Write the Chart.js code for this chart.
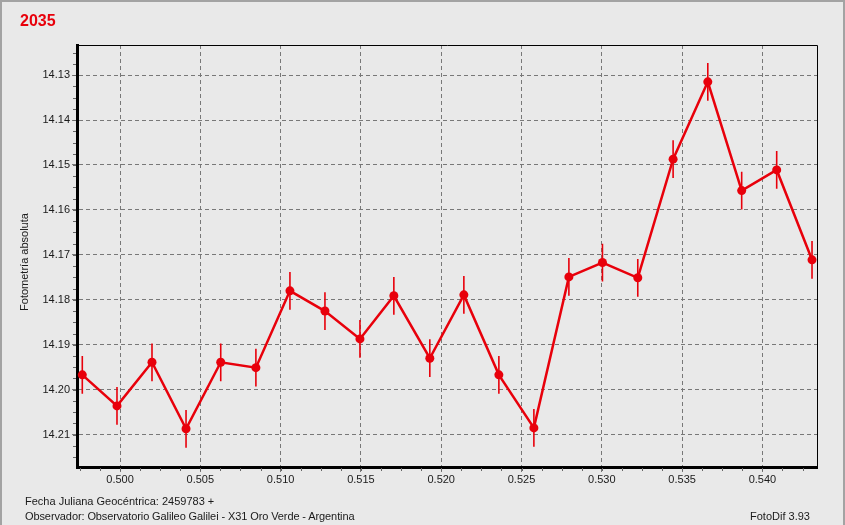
<!DOCTYPE html>
<html>
<head>
<meta charset="utf-8">
<script src="https://cdn.jsdelivr.net/npm/chart.js@4/dist/chart.umd.min.js"></script>
<style>
  html, body { margin: 0; padding: 0; }
  body { width: 845px; height: 525px; background: #e9e9e9; overflow: hidden; position: relative; font-family: "Liberation Sans", Arial, sans-serif; }
  #frame { position: absolute; left: 0; top: 0; width: 841px; height: 525px; border: 2px solid #a3a3a3; border-bottom: none; box-sizing: content-box; pointer-events: none; }
  #wrap { position: absolute; left: 0; top: 0; width: 845px; height: 525px; }
  .txt { position: absolute; white-space: nowrap; color: #1a1a1a; font-size: 11px; line-height: 13px; }
  #title { left: 20px; top: 11px; color: #e8000b; font-weight: bold; font-size: 16px; line-height: 20px; }
  #ylab { left: 24px; top: 262px; transform: translate(-50%, -50%) rotate(-90deg); }
  #f1 { left: 25px; top: 495px; }
  #f2 { left: 25px; top: 510px; letter-spacing: -0.1px; }
  #f3 { left: 750px; top: 510px; }
</style>
</head>
<body>
<div id="wrap"><canvas id="c" width="845" height="525"></canvas></div>
<div id="frame"></div>
<div class="txt" id="title">2035</div>
<div class="txt" id="ylab">Fotometría absoluta</div>
<div class="txt" id="f1">Fecha Juliana Geocéntrica: 2459783 +</div>
<div class="txt" id="f2">Observador: Observatorio Galileo Galilei - X31 Oro Verde - Argentina</div>
<div class="txt" id="f3">FotoDif 3.93</div>
<script>
// Julian date fraction (x) values
const jdFrac = [0.49765, 0.49981, 0.50199, 0.50411, 0.50627, 0.50846, 0.51058, 0.51276, 0.51494, 0.51705, 0.51929,
                0.52141, 0.52359, 0.52577, 0.52795, 0.53004, 0.53224, 0.53444, 0.53660, 0.53871, 0.54089, 0.54309];
// absolute magnitude values
const magnitude = [14.1967, 14.2036, 14.1939, 14.2087, 14.1939, 14.1951, 14.1780, 14.1825, 14.1887, 14.1791, 14.1930,
                   14.1789, 14.1967, 14.2085, 14.1749, 14.1717, 14.1751, 14.1487, 14.1315, 14.1557, 14.1511, 14.1711];
// error (half-length of error bars)
const magError = [0.0042, 0.0042, 0.0042, 0.0042, 0.0042, 0.0042, 0.0042, 0.0042, 0.0042, 0.0042, 0.0042,
                  0.0042, 0.0042, 0.0042, 0.0042, 0.0042, 0.0042, 0.0042, 0.0042, 0.0042, 0.0042, 0.0042];
// axis ranges and tick steps
const xRange = [0.49732, 0.5434];
const yRange = [14.1233, 14.2172];
const xStep = 0.005;
const yStep = 0.01;
const xMinorStep = 0.00125;
const yMinorStep = 0.0025;

const RED = '#e8000b';
const points = jdFrac.map((x, i) => ({ x: x, y: magnitude[i] }));

const errorBars = {
  id: 'errorBars',
  beforeDatasetsDraw(chart) {
    const ctx = chart.ctx, xs = chart.scales.x, ys = chart.scales.y;
    ctx.save();
    ctx.strokeStyle = RED;
    ctx.lineWidth = 1.6;
    ctx.beginPath();
    jdFrac.forEach((x, i) => {
      const px = xs.getPixelForValue(x);
      ctx.moveTo(px, ys.getPixelForValue(magnitude[i] - magError[i]));
      ctx.lineTo(px, ys.getPixelForValue(magnitude[i] + magError[i]));
    });
    ctx.stroke();
    ctx.restore();
  }
};

const frameAndMinor = {
  id: 'frameAndMinor',
  afterDraw(chart) {
    const ctx = chart.ctx, a = chart.chartArea, xs = chart.scales.x, ys = chart.scales.y;
    ctx.save();
    ctx.strokeStyle = '#000';
    ctx.lineWidth = 1;
    ctx.beginPath();
    ctx.moveTo(a.left, a.top + 0.5); ctx.lineTo(a.right + 0.5, a.top + 0.5);
    ctx.lineTo(a.right + 0.5, a.bottom);
    ctx.stroke();
    // minor ticks
    ctx.strokeStyle = '#666';
    ctx.beginPath();
    const x0 = Math.ceil(xRange[0] / xMinorStep);
    const x1 = Math.floor(xRange[1] / xMinorStep);
    for (let k = x0; k <= x1; k++) {
      const px = Math.round(xs.getPixelForValue(k * xMinorStep)) + 0.5;
      ctx.moveTo(px, a.bottom + 1);
      ctx.lineTo(px, a.bottom + 4);
    }
    const y0 = Math.ceil(yRange[0] / yMinorStep);
    const y1 = Math.floor(yRange[1] / yMinorStep);
    for (let k = y0; k <= y1; k++) {
      const py = Math.round(ys.getPixelForValue(k * yMinorStep)) + 0.5;
      ctx.moveTo(a.left - 4, py);
      ctx.lineTo(a.left - 1, py);
    }
    ctx.stroke();
    ctx.restore();
  }
};

const tickFont = { family: '"Liberation Sans", Arial, sans-serif', size: 11 };

new Chart(document.getElementById('c'), {
  type: 'line',
  data: {
    datasets: [{
      data: points,
      borderColor: RED,
      backgroundColor: RED,
      borderWidth: 2.5,
      pointRadius: 4.5,
      pointBackgroundColor: RED,
      pointBorderColor: RED,
      pointBorderWidth: 0,
      tension: 0
    }]
  },
  options: {
    responsive: false,
    animation: false,
    events: [],
    layout: { padding: { left: 0, top: 45, right: 28, bottom: 0 } },
    plugins: { legend: { display: false }, tooltip: { enabled: false }, title: { display: false } },
    scales: {
      x: {
        type: 'linear',
        min: xRange[0], max: xRange[1],
        afterFit(s) { s.height = 58; },
        border: { color: '#000', width: 3, dash: [4, 3] },
        grid: { color: '#787878', lineWidth: 1, tickLength: 5, tickColor: '#787878', tickBorderDash: [4, 3] },
        ticks: {
          stepSize: xStep, includeBounds: false, autoSkip: false, maxRotation: 0,
          padding: 1, color: '#1a1a1a', font: tickFont,
          callback: v => Number(v).toFixed(3)
        }
      },
      y: {
        type: 'linear',
        reverse: true,
        min: yRange[0], max: yRange[1],
        afterFit(s) { s.width = 77; },
        border: { color: '#000', width: 3, dash: [4, 3] },
        grid: { color: '#787878', lineWidth: 1, tickLength: 5, tickColor: '#787878' },
        ticks: {
          stepSize: yStep, includeBounds: false, autoSkip: false,
          padding: 2, color: '#1a1a1a', font: tickFont,
          callback: v => Number(v).toFixed(2)
        }
      }
    }
  },
  plugins: [errorBars, frameAndMinor]
});
</script>
</body>
</html>
